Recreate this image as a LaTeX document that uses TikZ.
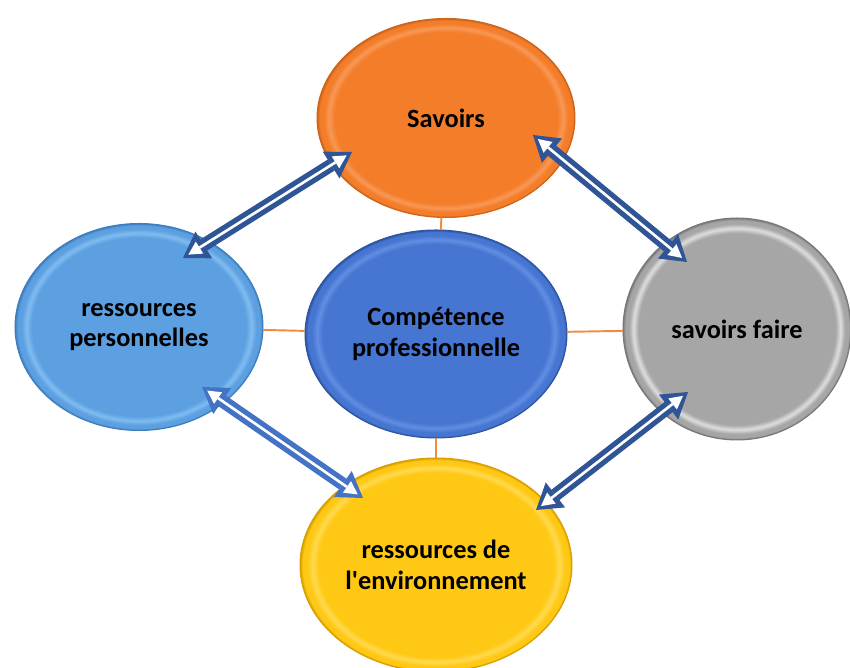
\documentclass[tikz,border=0pt]{standalone}
\usepackage{fontspec}
\setmainfont{Carlito}
\usetikzlibrary{shapes.geometric}
\usetikzlibrary{arrows.meta}

\definecolor{savfill}{RGB}{244,125,42}
\definecolor{savrim}{RGB}{248,152,85}
\definecolor{savedge}{RGB}{205,100,25}
\definecolor{rpfill}{RGB}{92,160,225}
\definecolor{rprim}{RGB}{128,188,240}
\definecolor{rpedge}{RGB}{60,125,190}
\definecolor{cpfill}{RGB}{70,118,210}
\definecolor{cprim}{RGB}{98,142,226}
\definecolor{cpedge}{RGB}{45,85,160}
\definecolor{sffill}{RGB}{166,166,166}
\definecolor{sfrim}{RGB}{222,222,222}
\definecolor{sfedge}{RGB}{120,120,120}
\definecolor{refill}{RGB}{255,200,20}
\definecolor{rerim}{RGB}{255,218,80}
\definecolor{reedge}{RGB}{215,160,0}
\definecolor{arrowdark}{RGB}{47,85,151}
\definecolor{arrowlight}{RGB}{68,114,196}
\definecolor{spokeorange}{RGB}{242,140,60}

\colorlet{bvA}{white}
\colorlet{bvB}{white}
\colorlet{bvC}{black}
\pgfdeclareradialshading[bvA,bvB,bvC]{bevel}{\pgfpoint{0bp}{0bp}}{color(0bp)=(bvA); color(21.6bp)=(bvA); color(22.7bp)=(bvB); color(23.7bp)=(bvA); color(24.5bp)=(bvA); color(25bp)=(bvC); color(50bp)=(bvC)}

\tikzset{
  bubble/.style n args={3}{ellipse, inner sep=0pt, outer sep=0pt, align=center,
    font=\fontsize{15}{17.5}\selectfont\bfseries,
    /utils/exec={\colorlet{bvA}{#1}\colorlet{bvB}{#2}\colorlet{bvC}{#3}},
    shade, shading=bevel, draw=#3, line width=0.6pt},
  spoke/.style={draw=spokeorange, line width=1.1pt},
  dbl/.style={draw=#1, line width=7.4pt,
    {Triangle[length=14pt,width=18pt,line width=0pt]}-{Triangle[length=14pt,width=18pt,line width=0pt]},
    postaction={draw=white, line width=1.5pt, shorten <=3.6pt, shorten >=3.6pt,
      {Triangle[length=7.5pt,width=8pt,line width=0pt]}-{Triangle[length=7.5pt,width=8pt,line width=0pt]}}},
}

\begin{document}
\begin{tikzpicture}[x=0.02cm,y=-0.02cm]
\useasboundingbox (0,0) rectangle (850,668);
\clip (0,0) rectangle (850,668);

% the five bubbles
\node[bubble={savfill}{savrim}{savedge}, minimum width=5.16cm, minimum height=3.98cm] (sav) at (446,118) {Savoirs};
\node[bubble={rpfill}{rprim}{rpedge}, minimum width=4.96cm, minimum height=4.14cm] (rp) at (139,327) {ressources\\personnelles};
\node[bubble={cpfill}{cprim}{cpedge}, minimum width=5.24cm, minimum height=4.16cm] (cp) at (436,334) {Compétence\\professionnelle};
\node[bubble={sffill}{sfrim}{sfedge}, minimum width=4.56cm, minimum height=4.44cm] (sf) at (737,329) {savoirs faire};
\node[bubble={refill}{rerim}{reedge}, minimum width=5.44cm, minimum height=4.28cm] (re) at (436,565) {ressources de\\l\textquotesingle environnement};

% spokes from the centre
\draw[spoke] (cp) -- (sav);
\draw[spoke] (cp) -- (rp);
\draw[spoke] (cp) -- (sf);
\draw[spoke] (cp) -- (re);

% hollow double arrows
\draw[dbl=arrowdark] ([shift={(44,-69)}]rp.center) -- ([shift={(-94,34)}]sav.center);
\draw[dbl=arrowdark] ([shift={(87,17)}]sav.center) -- ([shift={(-50,-67)}]sf.center);
\draw[dbl=arrowlight] ([shift={(63,60)}]rp.center) -- ([shift={(-73,-67)}]re.center);
\draw[dbl=arrowdark] ([shift={(-49,63)}]sf.center) -- ([shift={(100,-55)}]re.center);

\end{tikzpicture}
\end{document}
